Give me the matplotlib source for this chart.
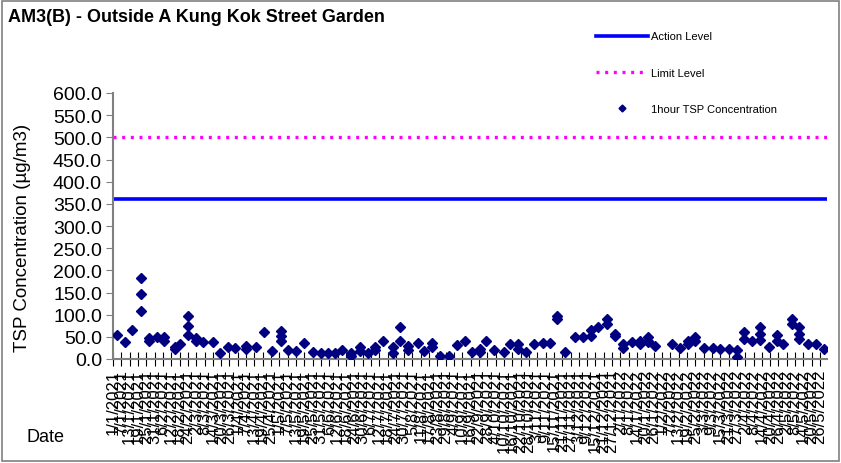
import datetime as dt
import matplotlib
matplotlib.use("Agg")
import matplotlib.pyplot as plt
import matplotlib.dates as mdates
from matplotlib.lines import Line2D
from matplotlib.patches import Rectangle

plt.rcParams['font.family'] = ['Liberation Sans', 'DejaVu Sans']

# sampling days and the 1-hour TSP readings taken on each (ug/m3)
sample_dates = [
    "2021-01-04", "2021-01-10", "2021-01-15", "2021-01-21", "2021-01-27", "2021-02-02",
    "2021-02-07", "2021-02-15", "2021-02-18", "2021-02-24", "2021-03-02", "2021-03-07",
    "2021-03-14", "2021-03-19", "2021-03-25", "2021-03-30", "2021-04-07", "2021-04-14",
    "2021-04-20", "2021-04-26", "2021-05-02", "2021-05-07", "2021-05-13", "2021-05-19",
    "2021-05-25", "2021-05-31", "2021-06-05", "2021-06-10", "2021-06-15", "2021-06-22",
    "2021-06-28", "2021-07-04", "2021-07-09", "2021-07-15", "2021-07-22", "2021-07-27",
    "2021-08-02", "2021-08-09", "2021-08-13", "2021-08-19", "2021-08-25", "2021-08-31",
    "2021-09-06", "2021-09-12", "2021-09-17", "2021-09-23", "2021-09-27", "2021-10-03",
    "2021-10-10", "2021-10-14", "2021-10-20", "2021-10-26", "2021-11-01", "2021-11-07",
    "2021-11-12", "2021-11-17", "2021-11-23", "2021-11-30", "2021-12-06", "2021-12-12",
    "2021-12-17", "2021-12-23", "2021-12-29", "2022-01-04", "2022-01-10", "2022-01-16",
    "2022-01-22", "2022-01-27", "2022-02-08", "2022-02-14", "2022-02-20", "2022-02-25",
    "2022-03-03", "2022-03-10", "2022-03-15", "2022-03-21", "2022-03-27", "2022-04-01",
    "2022-04-07", "2022-04-13", "2022-04-19", "2022-04-25", "2022-04-29", "2022-05-06",
    "2022-05-11", "2022-05-17", "2022-05-23", "2022-05-29",
]
tsp_values = [
    [54], [38], [65], [183, 147, 108], [47, 40], [50],
    [50, 40], [27, 23], [34], [97, 74, 54], [47, 40], [38],
    [38], [14], [27], [25], [29, 23], [27],
    [61], [18], [63, 52, 41], [20], [18], [36],
    [16], [14], [14], [14], [20], [14, 7],
    [27, 18], [14], [27, 20], [41], [27, 14], [72, 41],
    [29, 20], [36], [18], [36, 27], [7], [7],
    [32], [41], [16], [16, 23], [41], [20],
    [16], [34], [34, 23], [16], [34], [36],
    [36], [97, 90], [16], [50], [50], [65, 52],
    [72], [90, 79], [56, 52], [34, 25], [38], [41, 34],
    [50, 41, 38], [29], [34], [25], [41, 34], [50, 41],
    [25], [25], [23], [23], [20, 5], [61, 45],
    [41], [72, 56, 43], [27], [54, 41], [34], [90, 79],
    [72, 56, 45], [34], [34], [23],
]
action_level = 360
limit_level = 500

x_start = dt.date(2021, 1, 1)
x_end = dt.date(2022, 5, 31)
tick_dates = [x_start + dt.timedelta(days=6 * i) for i in range(86)]
tick_labels = [f"{d.day}/{d.month}/{d.year}" for d in tick_dates]

xs, ys = [], []
for d, vals in zip(sample_dates, tsp_values):
    for v in vals:
        xs.append(dt.date.fromisoformat(d))
        ys.append(v)

fig = plt.figure(figsize=(8.41, 4.64), dpi=100)
ax = fig.add_axes([113 / 841, 104 / 464, 714 / 841, 266 / 464])

ax.axhline(action_level, color='#0000ff', lw=2.6, zorder=2)
ax.axhline(limit_level, color='#ff00ff', lw=2.4, linestyle=(0, (0.9, 1.7)), zorder=2)
ax.plot(xs, ys, linestyle='none', marker='D', ms=5.6, color='#000080', zorder=3)

ax.set_xlim(x_start, x_end)
ax.set_ylim(0, 600)
ax.set_yticks(range(0, 601, 50))
ax.set_yticklabels([f"{v:.1f}" for v in range(0, 601, 50)], fontsize=14)
ax.set_xticks([mdates.date2num(d) for d in tick_dates])
ax.set_xticklabels(tick_labels, rotation=90, fontsize=12)

for side in ['top', 'right']:
    ax.spines[side].set_visible(False)
for side in ['left', 'bottom']:
    ax.spines[side].set_color('#808080')
    ax.spines[side].set_linewidth(1.5)
ax.tick_params(axis='y', direction='out', length=5, color='#808080', pad=3)
ax.tick_params(axis='x', direction='inout', length=10, color='black', pad=2)

ax.set_ylabel("TSP Concentration (µg/m3)", fontsize=13.5)
ax.yaxis.set_label_coords(-0.115, 0.46)
fig.text(27 / 841, 1 - 438 / 464, "Date", fontsize=13, va='center', ha='left')
fig.text(8 / 841, 1 - 18 / 464, "AM3(B) - Outside A Kung Kok Street Garden",
         fontsize=13, fontweight='bold', va='center', ha='left')

handles = [
    Line2D([], [], color='#0000ff', lw=2.6),
    Line2D([], [], color='#ff00ff', lw=2.4, linestyle=(0, (0.9, 1.7))),
    Line2D([], [], linestyle='none', marker='D', ms=3.5, color='#000080'),
]
fig.legend(handles, ["Action Level", "Limit Level", "1hour TSP Concentration"],
           loc='upper left', bbox_to_anchor=(592 / 841, 1 - 28 / 464), frameon=False,
           fontsize=8, handlelength=4.6, labelspacing=2.35, handletextpad=0.3,
           borderaxespad=0)

fig.add_artist(Rectangle((0.002, 0.004), 0.996, 0.992, transform=fig.transFigure,
                         fill=False, edgecolor='#808080', lw=1.2))

fig.savefig("out.png", dpi=100)
